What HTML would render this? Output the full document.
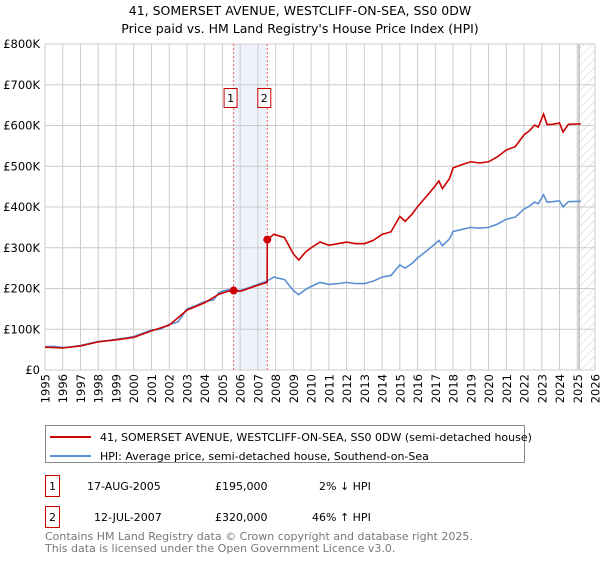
<!DOCTYPE html>
<html><head><meta charset="utf-8"><style>
body{margin:0;background:#fff;width:600px;height:560px;overflow:hidden;font-family:"DejaVu Sans","Liberation Sans",sans-serif}
svg text{font-family:"DejaVu Sans","Liberation Sans",sans-serif}
</style></head><body>
<svg id="chart" width="600" height="560" xmlns="http://www.w3.org/2000/svg">
<defs><pattern id="hatch" width="6" height="6" patternUnits="userSpaceOnUse" patternTransform="rotate(45)"><line x1="0" y1="0" x2="0" y2="6" stroke="#ccc" stroke-width="1"/></pattern></defs>
<text x="300" y="15" text-anchor="middle" font-size="12.5">41, SOMERSET AVENUE, WESTCLIFF-ON-SEA, SS0 0DW</text>
<text x="300" y="33" text-anchor="middle" font-size="12.5">Price paid vs. HM Land Registry's House Price Index (HPI)</text>
<g id="grid"></g><g id="series"></g><g id="axes"></g>
<g>
<rect x="45.5" y="425.5" width="479" height="37" fill="#fff" stroke="#888"/>
<line x1="50" y1="437" x2="91" y2="437" stroke="#cc0000" stroke-width="2"/>
<text x="100" y="441" font-size="11">41, SOMERSET AVENUE, WESTCLIFF-ON-SEA, SS0 0DW (semi-detached house)</text>
<line x1="50" y1="456" x2="91" y2="456" stroke="#5b8fd4" stroke-width="2"/>
<text x="100" y="460" font-size="11">HPI: Average price, semi-detached house, Southend-on-Sea</text>
</g>
<g font-size="11">
<rect x="45.5" y="475.5" width="14" height="21" fill="#fff" stroke="#cc0000"/>
<text x="52.5" y="490" text-anchor="middle">1</text>
<text x="87" y="490">17-AUG-2005</text><text x="215" y="490">£195,000</text><text x="319" y="490">2% ↓ HPI</text>
</g>
<g font-size="11">
<rect x="45.5" y="506.5" width="14" height="21" fill="#fff" stroke="#cc0000"/>
<text x="52.5" y="521" text-anchor="middle">2</text>
<text x="94" y="521">12-JUL-2007</text><text x="215" y="521">£320,000</text><text x="312" y="521">46% ↑ HPI</text>
</g>
<text x="45" y="540" font-size="11" fill="#777">Contains HM Land Registry data © Crown copyright and database right 2025.</text>
<text x="45" y="552" font-size="11" fill="#777">This data is licensed under the Open Government Licence v3.0.</text>
</svg>
<script>
const hpiYears=[1995,1995.5,1996,1996.5,1997,1997.5,1998,1998.5,1999,1999.5,2000,2000.5,2001,2001.5,2002,2002.5,2003,2003.5,2004,2004.5,2004.8,2005.3,2005.6,2006,2006.5,2007,2007.5,2007.9,2008.5,2009.0,2009.3,2009.7,2010,2010.5,2011,2011.5,2012,2012.5,2013,2013.5,2014,2014.5,2015.0,2015.3,2015.7,2016,2016.5,2017,2017.2,2017.4,2017.8,2018,2018.5,2019,2019.5,2020,2020.5,2021,2021.5,2022,2022.3,2022.6,2022.8,2023.1,2023.3,2023.6,2024,2024.2,2024.5,2025.2];
const hpiValues=[57,58,55,57,60,65,70,72,75,78,82,90,98,100,112,118,150,158,168,172,190,197,195,195,202,210,218,228,222,195,185,198,205,215,210,212,215,212,212,218,228,232,258,250,262,275,292,310,318,305,322,340,345,350,348,350,358,370,375,395,402,412,408,430,412,413,415,400,413,414];
const redYears=[1995,1996,1997,1998,1999,2000,2001,2002,2003,2004,2004.8,2005.3,2005.63,2006,2007,2007.52,2007.53,2007.9,2008.5,2009.0,2009.3,2009.7,2010,2010.5,2011,2011.5,2012,2012.5,2013,2013.5,2014,2014.5,2015.0,2015.3,2015.7,2016,2016.5,2017,2017.2,2017.4,2017.8,2018,2018.5,2019,2019.5,2020,2020.5,2021,2021.5,2022,2022.3,2022.6,2022.8,2023.1,2023.3,2023.6,2024,2024.2,2024.5,2025.2];
const redValues=[56,54,59,69,74,80,96,110,147,165,186,193,195,193,208,215,320,333,325,285,270,290,300,314,306,310,314,310,310,318,333,339,377,365,383,401,426,452,464,445,470,496,504,511,508,511,523,540,548,577,587,601,596,628,602,603,606,584,603,604];
const sales=[{x:2005.63,v:195,label:'1'},{x:2007.53,v:320,label:'2'}];
const yTicks=[0,100,200,300,400,500,600,700,800];
const yTickLabels=['£0','£100K','£200K','£300K','£400K','£500K','£600K','£700K','£800K'];
const xTicks=[1995,1996,1997,1998,1999,2000,2001,2002,2003,2004,2005,2006,2007,2008,2009,2010,2011,2012,2013,2014,2015,2016,2017,2018,2019,2020,2021,2022,2023,2024,2025,2026];
const L=45,R=595,T=44,B=370;
const X=y=>L+(y-1995)/(2026-1995)*(R-L);
const Y=v=>B-v/800*(B-T);
const NS='http://www.w3.org/2000/svg';
function mk(tag,attrs,parent,txt){const e=document.createElementNS(NS,tag);for(const k in attrs)e.setAttribute(k,attrs[k]);if(txt!==undefined)e.textContent=txt;parent.appendChild(e);return e;}
const grid=document.getElementById('grid'),ser=document.getElementById('series'),ax=document.getElementById('axes');
let sp=mk('rect',{x:X(sales[0].x),y:T,width:X(sales[1].x)-X(sales[0].x),height:B-T,fill:'#eef2fb'},grid);


let ht=mk('rect',{x:X(2025.1),y:T,width:R-X(2025.1),height:B-T,fill:'url(#hatch)'},grid);


xTicks.forEach((t,i)=>{const g=mk('line',{x1:X(t),x2:X(t),y1:T,y2:B,stroke:'#ccc','stroke-width':1},grid);


const lx=X(t)+4.5,ly=374;
const tx=mk('text',{x:lx,y:ly,'text-anchor':'end','font-size':11.5,transform:'rotate(-90 '+lx+' '+ly+')'},ax,String(t));

});
yTicks.forEach((t,i)=>{const g=mk('line',{x1:L,x2:R,y1:Y(t),y2:Y(t),stroke:'#ccc','stroke-width':1},grid);


const tx=mk('text',{x:40,y:Y(t)+4,'text-anchor':'end','font-size':11.5},ax,yTickLabels[i]);

});
const vl=mk('line',{x1:X(2025.1),x2:X(2025.1),y1:T,y2:B,stroke:'#999','stroke-width':1},grid);


sales.forEach(s=>{const d=mk('line',{x1:X(s.x),x2:X(s.x),y1:T,y2:B,stroke:'#f06060','stroke-width':1,'stroke-dasharray':'2,2'},grid);

});
const hp=mk('polyline',{points:hpiYears.map((y,i)=>X(y)+','+Y(hpiValues[i])).join(' '),fill:'none',stroke:'#5b8fd4','stroke-width':1.6},ser);


const rp=mk('polyline',{points:redYears.map((y,i)=>X(y)+','+Y(redValues[i])).join(' '),fill:'none',stroke:'#cc0000','stroke-width':1.6},ser);


sales.forEach(s=>{const c=mk('circle',{cx:X(s.x),cy:Y(s.v),r:4,fill:'#cc0000'},ser);


const bx=X(s.x)-10;
const b=mk('rect',{x:bx+0.5,y:88.5,width:13,height:19,fill:'#fff',stroke:'#cc0000'},ser);


const t=mk('text',{x:bx+7,y:102,'text-anchor':'middle','font-size':11},ser,s.label);

});
</script>
</body></html>
